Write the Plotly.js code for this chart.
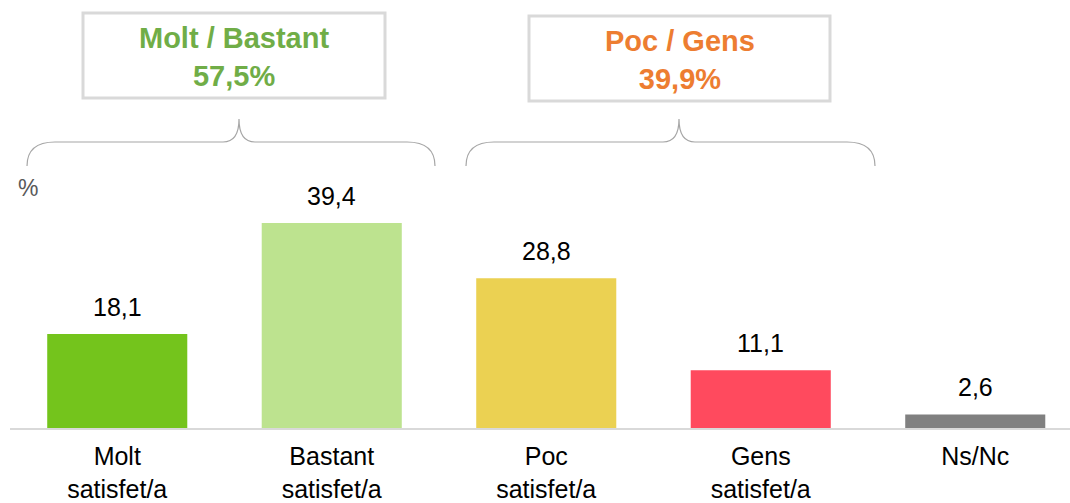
<!DOCTYPE html>
<html><head><meta charset="utf-8">
<script src="https://cdn.plot.ly/plotly-3.0.1.min.js"></script>
<style>html,body{margin:0;padding:0;background:#fff}#chart{width:1070px;height:503px}</style>
</head><body><div id="chart"></div>
<script>
const categories = ["Molt<br>satisfet/a", "Bastant<br>satisfet/a", "Poc<br>satisfet/a", "Gens<br>satisfet/a", "Ns/Nc"];
const values = [18.1, 39.4, 28.8, 11.1, 2.6];
const barColors = ["#74c41c", "#bde38f", "#ebd152", "#ff4a5e", "#808080"];
const groupLabels = ["Molt / Bastant", "Poc / Gens"];
const groupColors = ["#70ad47", "#ed7d31"];

const FONT = 'Liberation Sans, Arial, sans-serif';
const fmt = v => v.toFixed(1).replace('.', ',');
const W = 1070, H = 503, ML = 10, MR = 0, MT = 10, MB = 75;
const PW = W - ML - MR, PH = H - MT - MB;
const px = X => (X - ML) / PW;
const py = Y => (H - MB - Y) / PH;

const groupSums = [values[0] + values[1], values[2] + values[3]];

function brace(x0, x1, tip, yEnd, yH, yTip, r, rt) {
  const P = (X, Y) => px(X).toFixed(5) + ',' + py(Y).toFixed(5);
  return 'M' + P(x0, yEnd) + ' Q' + P(x0, yH) + ' ' + P(x0 + r, yH) +
    ' L' + P(tip - rt, yH) + ' Q' + P(tip, yH) + ' ' + P(tip, yTip) +
    ' Q' + P(tip, yH) + ' ' + P(tip + rt, yH) +
    ' L' + P(x1 - r, yH) + ' Q' + P(x1, yH) + ' ' + P(x1, yEnd);
}

const boxes = [
  {x0: 83, x1: 385, y0: 13, y1: 98},
  {x0: 529, x1: 830, y0: 16, y1: 101}
];
const braces = [
  {x0: 27, x1: 435, tip: 239},
  {x0: 466, x1: 875, tip: 679}
];

const shapes = [];
const annotations = [];
boxes.forEach((b, i) => {
  shapes.push({type: 'rect', xref: 'paper', yref: 'paper', x0: px(b.x0), x1: px(b.x1), y0: py(b.y1), y1: py(b.y0),
    line: {color: '#d9d9d9', width: 3}, fillcolor: 'rgba(0,0,0,0)'});
  annotations.push({xref: 'paper', yref: 'paper', x: px((b.x0 + b.x1) / 2), y: py((b.y0 + b.y1) / 2 + 1),
    text: '<b>' + groupLabels[i] + '<br>' + fmt(groupSums[i]) + '%</b>', showarrow: false,
    font: {family: FONT, size: 29, color: groupColors[i]},
    xanchor: 'center', yanchor: 'middle'});
});
braces.forEach(b => {
  shapes.push({type: 'path', xref: 'paper', yref: 'paper', path: brace(b.x0, b.x1, b.tip, 166, 142, 119, 28, 16),
    line: {color: '#a6a6a6', width: 1.2}});
});
values.forEach((v, i) => {
  annotations.push({x: categories[i], y: v, xref: 'x', yref: 'y', text: fmt(v), showarrow: false,
    yanchor: 'middle', yshift: 27,
    font: {family: FONT, size: 25, color: '#000'}});
});
annotations.push({xref: 'paper', yref: 'paper', x: px(28), y: py(188), text: '%', showarrow: false,
  xanchor: 'center', yanchor: 'middle', font: {family: FONT, size: 23, color: '#595959'}});

const trace = {type: 'bar', x: categories, y: values, marker: {color: barColors}, width: 0.653, hoverinfo: 'none'};

const spacing = 214.5;
const layout = {
  width: W, height: H, margin: {l: ML, r: MR, t: MT, b: MB},
  paper_bgcolor: '#fff', plot_bgcolor: '#fff', showlegend: false,
  xaxis: {range: [-0.5, -0.5 + PW / spacing], showline: true, linecolor: '#d9d9d9', linewidth: 2,
    ticks: '', showgrid: false, zeroline: false, fixedrange: true, automargin: false, ticklabelstandoff: 5,
    tickfont: {family: FONT, size: 25, color: '#000'}},
  yaxis: {range: [0, PH / 5.2], visible: false, showgrid: false, zeroline: false, fixedrange: true},
  shapes: shapes, annotations: annotations
};
Plotly.newPlot('chart', [trace], layout, {displayModeBar: false, staticPlot: true});
</script></body></html>
